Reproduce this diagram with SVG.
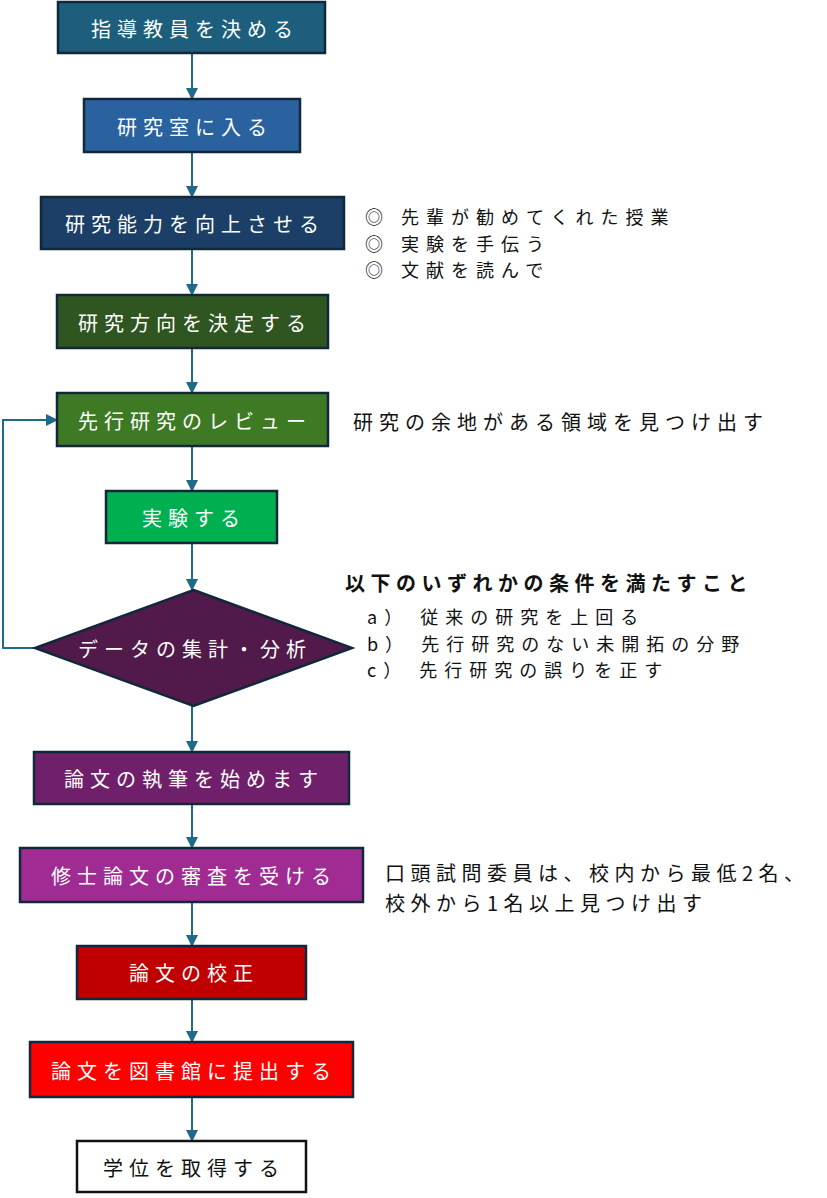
<svg xmlns="http://www.w3.org/2000/svg" width="827" height="1198" viewBox="0 0 827 1198">
<style>
.box{stroke:#10283a;stroke-width:2.5}
.bt{font-family:"Noto Sans CJK JP","Noto Sans CJK SC",sans-serif;font-size:20px;letter-spacing:6px;fill:#ffffff;text-anchor:middle;dominant-baseline:central}
.nt{font-family:"Noto Sans CJK JP","Noto Sans CJK SC",sans-serif;font-size:20px;letter-spacing:5.5px;fill:#111111;dominant-baseline:central}
.ls{font-size:18px;letter-spacing:7px}
.conn{stroke:#1f6a8a;stroke-width:2;fill:none}
</style>
<defs>
<marker id="arr" markerUnits="userSpaceOnUse" markerWidth="12" markerHeight="12" refX="11" refY="6" orient="auto">
<path d="M0,0 L12,6 L0,12 Z" fill="#1f6a8a"/>
</marker>
</defs>
<rect width="827" height="1198" fill="#ffffff"/>
<g id="connectors">
<line class="conn" x1="192" y1="53" x2="192" y2="99" marker-end="url(#arr)"/>
<line class="conn" x1="192" y1="152" x2="192" y2="197" marker-end="url(#arr)"/>
<line class="conn" x1="192" y1="249" x2="192" y2="295" marker-end="url(#arr)"/>
<line class="conn" x1="192" y1="348" x2="192" y2="393" marker-end="url(#arr)"/>
<line class="conn" x1="192" y1="446" x2="192" y2="491" marker-end="url(#arr)"/>
<line class="conn" x1="192" y1="543" x2="192" y2="590" marker-end="url(#arr)"/>
<line class="conn" x1="192" y1="706" x2="192" y2="752" marker-end="url(#arr)"/>
<line class="conn" x1="192" y1="804" x2="192" y2="848" marker-end="url(#arr)"/>
<line class="conn" x1="192" y1="902" x2="192" y2="946" marker-end="url(#arr)"/>
<line class="conn" x1="192" y1="999" x2="192" y2="1042" marker-end="url(#arr)"/>
<line class="conn" x1="192" y1="1097" x2="192" y2="1141" marker-end="url(#arr)"/>
<polyline class="conn" points="35,648 3,648 3,420 57,420" marker-end="url(#arr)"/>
</g>
<g id="n1"><rect class="box" x="58" y="2" width="267" height="51" fill="#1c5e7b"/><text class="bt" x="195" y="28">指導教員を決める</text></g>
<g id="n2"><rect class="box" x="84" y="99" width="216" height="53" fill="#2a62a0"/><text class="bt" x="195" y="126">研究室に入る</text></g>
<g id="n3"><rect class="box" x="41" y="197" width="303" height="52" fill="#1b3f66"/><text class="bt" x="195" y="223">研究能力を向上させる</text></g>
<g id="n4"><rect class="box" x="57" y="295" width="271" height="53" fill="#2f5520"/><text class="bt" x="195" y="322">研究方向を決定する</text></g>
<g id="n5"><rect class="box" x="57" y="393" width="271" height="53" fill="#3e7a24"/><text class="bt" x="195" y="420">先行研究のレビュー</text></g>
<g id="n6"><rect class="box" x="106" y="491" width="171" height="52" fill="#00b050"/><text class="bt" x="194" y="517">実験する</text></g>
<g id="n7"><polygon class="box" points="193.5,590 352,648 193.5,706 35,648" fill="#521a4a"/><text class="bt" x="195" y="648">データの集計・分析</text></g>
<g id="n8"><rect class="box" x="34" y="752" width="315" height="52" fill="#70206a"/><text class="bt" x="194" y="778">論文の執筆を始めます</text></g>
<g id="n9"><rect class="box" x="20" y="848" width="343" height="54" fill="#a02b93"/><text class="bt" x="194" y="875">修士論文の審査を受ける</text></g>
<g id="n10"><rect class="box" x="77" y="946" width="229" height="53" fill="#c00000"/><text class="bt" x="194" y="972">論文の校正</text></g>
<g id="n11"><rect class="box" x="30" y="1042" width="323" height="55" fill="#ff0000"/><text class="bt" x="194" y="1070">論文を図書館に提出する</text></g>
<g id="n12"><rect x="77" y="1141" width="229" height="51" fill="#ffffff" stroke="#111111" stroke-width="2.5"/><text class="bt" x="194" y="1167" style="fill:#111111">学位を取得する</text></g>
<g id="notes">
<text class="nt ls" x="365" y="216">◎ 先輩が勧めてくれた授業</text>
<text class="nt ls" x="365" y="243">◎ 実験を手伝う</text>
<text class="nt ls" x="365" y="269">◎ 文献を読んで</text>
<text class="nt" x="353" y="421" style="letter-spacing:6px">研究の余地がある領域を見つけ出す</text>
<text class="nt" x="345" y="582" font-weight="bold">以下のいずれかの条件を満たすこと</text>
<text class="nt ls" x="367" y="616">a） 従来の研究を上回る</text>
<text class="nt ls" x="367" y="643">b） 先行研究のない未開拓の分野</text>
<text class="nt ls" x="367" y="669">c） 先行研究の誤りを正す</text>
<text class="nt" x="385" y="872">口頭試問委員は、校内から最低2名、</text>
<text class="nt" x="385" y="902">校外から1名以上見つけ出す</text>
</g>
</svg>
